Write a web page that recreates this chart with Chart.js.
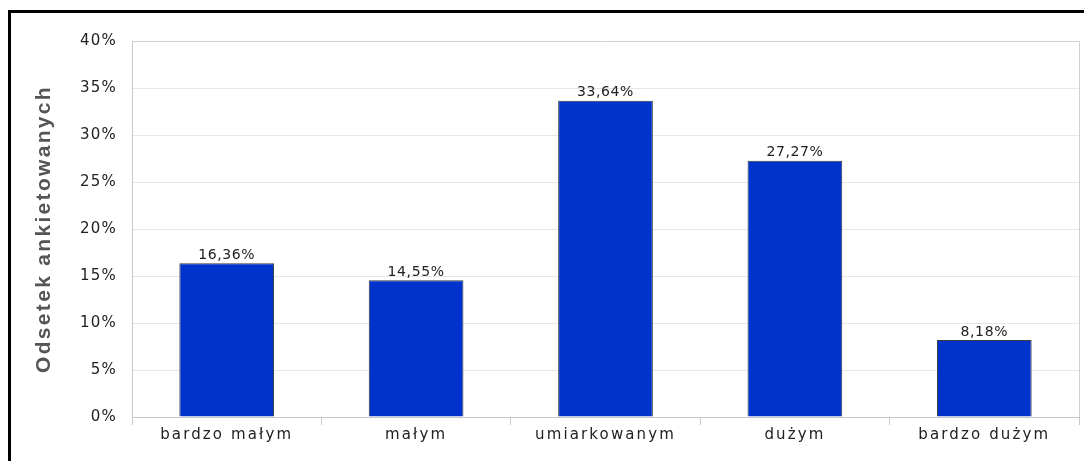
<!DOCTYPE html>
<html>
<head>
<meta charset="utf-8">
<script src="https://cdn.jsdelivr.net/npm/chart.js@4"></script>
<style>
  html, body { margin: 0; padding: 0; background: #fff; }
  #wrap { position: relative; width: 1084px; height: 461px; overflow: hidden; }
  #frame { position: absolute; left: 8px; top: 10px; width: 1100px; height: 500px;
           border-top: 3px solid #000; border-left: 3px solid #000; }
  canvas { position: absolute; left: 0; top: 0; }
</style>
</head>
<body>
<div id="wrap">
  <div id="frame"></div>
  <canvas id="myChart" width="1084" height="461"></canvas>
</div>
<script>
// categories and values (percent of respondents)
const categories = ['bardzo małym', 'małym', 'umiarkowanym', 'dużym', 'bardzo dużym'];
const values = [16.36, 14.55, 33.64, 27.27, 8.18];
const yTicks = [0, 5, 10, 15, 20, 25, 30, 35, 40];
const yTitle = 'Odsetek ankietowanych';

function fmt(v) {
  return v.toFixed(2).replace('.', ',') + '%';
}

// the original uses a widely spaced font, so work out a letter spacing
// that gives a sample string the width it has in the picture
const measure = document.createElement('canvas').getContext('2d');
function spacingFor(font, text, width) {
  measure.font = font;
  const w = measure.measureText(text).width;
  return Math.max(0, (width - w) / text.length).toFixed(2) + 'px';
}
const xSp = spacingFor('15px "DejaVu Sans"', 'umiarkowanym', 141);
const ySp = spacingFor('15px "DejaVu Sans"', '40%', 37);
const valSp = spacingFor('14px "DejaVu Sans"', '33,64%', 57);
const titleSp = spacingFor('bold 21px "Liberation Sans"', yTitle, 288);

// wrap a scale's label/title drawing so it uses letter spacing
function spaced(scale, labelSp, tSp) {
  if (scale._spaced) return;
  scale._spaced = true;
  const dl = scale.drawLabels, dt = scale.drawTitle;
  scale.drawLabels = function (ca) {
    this.ctx.save(); this.ctx.letterSpacing = labelSp; dl.call(this, ca); this.ctx.restore();
  };
  scale.drawTitle = function (ca) {
    this.ctx.save(); this.ctx.letterSpacing = tSp; dt.call(this, ca); this.ctx.restore();
  };
}

// plot border + value labels
const extras = {
  id: 'extras',
  afterDraw(chart) {
    const ctx = chart.ctx;
    const a = chart.chartArea;
    ctx.save();
    ctx.strokeStyle = '#d0d0d0';
    ctx.lineWidth = 1;
    ctx.beginPath();
    ctx.moveTo(a.left, a.top + 0.5);
    ctx.lineTo(a.right + 0.5, a.top + 0.5);
    ctx.lineTo(a.right + 0.5, a.bottom);
    ctx.stroke();
    ctx.fillStyle = '#222';
    ctx.font = '14px "DejaVu Sans"';
    ctx.letterSpacing = valSp;
    ctx.textAlign = 'center';
    ctx.textBaseline = 'bottom';
    chart.getDatasetMeta(0).data.forEach(function (bar, i) {
      ctx.fillText(fmt(values[i]), bar.x, bar.y - 1);
    });
    ctx.restore();
  }
};

const myChart = document.getElementById('myChart');
new Chart(myChart, {
  type: 'bar',
  data: {
    labels: categories,
    datasets: [{
      data: values,
      backgroundColor: '#0033cc',
      borderColor: '#3a3a3a',
      borderWidth: 1,
      barPercentage: 0.5,
      categoryPercentage: 1
    }]
  },
  options: {
    responsive: false,
    animation: false,
    layout: { padding: { top: 41, right: 5, left: 0, bottom: 0 } },
    plugins: { legend: { display: false }, tooltip: { enabled: false } },
    scales: {
      x: {
        grid: { offset: true, drawOnChartArea: false, color: '#c8c8c8', tickLength: 8 },
        border: { color: '#c8c8c8' },
        ticks: { color: '#222', font: { family: 'DejaVu Sans', size: 15 }, padding: 1, maxRotation: 0 },
        afterFit(scale) { scale.height = 44; spaced(scale, xSp, '0px'); }
      },
      y: {
        min: 0,
        max: 40,
        afterBuildTicks(scale) { scale.ticks = yTicks.map(v => ({ value: v })); },
        grid: { color: '#e6e6e6', drawTicks: false },
        border: { color: '#c8c8c8' },
        ticks: { color: '#222', font: { family: 'DejaVu Sans', size: 15 }, padding: 15, callback: v => v + '%' },
        title: { display: true, text: yTitle, color: '#555',
                 font: { family: 'Liberation Sans', size: 21, weight: 'bold' }, padding: { top: 32, bottom: 0 } },
        afterFit(scale) { scale.width = 132; spaced(scale, ySp, titleSp); }
      }
    }
  },
  plugins: [extras]
});
</script>
</body>
</html>
